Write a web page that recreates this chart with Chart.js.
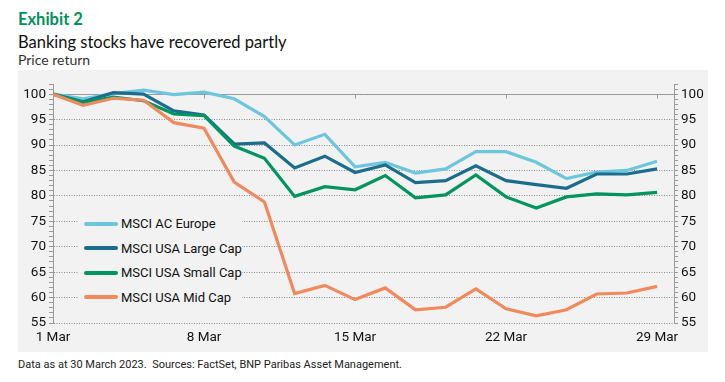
<!DOCTYPE html>
<html>
<head>
<meta charset="utf-8">
<script src="https://cdn.jsdelivr.net/npm/chart.js@4"></script>
<style>
  html,body{margin:0;padding:0;background:#fff;width:725px;height:382px;overflow:hidden;}
  .t{position:absolute;left:18px;white-space:nowrap;font-family:Lato,"Open Sans",sans-serif;}
  #ex{top:9px;font-size:16.5px;font-weight:bold;color:#00915a;}
  #ti{top:32px;font-size:16.5px;color:#111;}
  #su{top:51px;font-size:14px;color:#333;}
  #panel{position:absolute;left:18px;top:70px;width:690px;height:282px;background:#f2f2f2;}
  #panel canvas{position:absolute;left:0;top:0;}
  #legend{position:absolute;left:60px;top:142px;width:164px;height:94px;background:#f2f2f2;font-family:Roboto,sans-serif;font-size:13px;color:#111;}
  .row{position:absolute;left:6px;height:16px;line-height:16px;white-space:nowrap;}
  .sw{display:inline-block;width:34px;height:4px;border-radius:2px;vertical-align:middle;margin-right:3px;position:relative;top:-1px;}
  #foot{position:absolute;left:18px;top:358px;font-family:Roboto,sans-serif;font-size:11px;color:#222;white-space:nowrap;}
</style>
</head>
<body>
<div class="t" id="ex">Exhibit 2</div>
<div class="t" id="ti">Banking stocks have recovered partly</div>
<div class="t" id="su">Price return</div>
<div id="panel"><canvas id="c" width="690" height="282"></canvas><div id="legend"></div></div>
<div id="foot">Data as at 30 March 2023.&nbsp; Sources: FactSet, BNP Paribas Asset Management.</div>
<script>
const dates = ['1 Mar','2 Mar','3 Mar','6 Mar','7 Mar','8 Mar','9 Mar','10 Mar','13 Mar','14 Mar','15 Mar','16 Mar','17 Mar','20 Mar','21 Mar','22 Mar','23 Mar','24 Mar','27 Mar','28 Mar','29 Mar'];
const tickDates = ['1 Mar','8 Mar','15 Mar','22 Mar','29 Mar'];
const yTickLabels = [55,60,65,70,75,80,85,90,95,100];
const seriesNames = ['MSCI AC Europe','MSCI USA Large Cap','MSCI USA Small Cap','MSCI USA Mid Cap'];
const acEurope   = [100,99.1,100.1,100.8,99.9,100.4,99.1,95.6,90.0,92.1,85.7,86.6,84.5,85.3,88.7,88.7,86.6,83.4,84.7,85.0,86.8];
const usaLarge   = [100,98.5,100.3,100.0,96.7,95.9,90.2,90.4,85.5,87.8,84.6,86.1,82.6,83.0,85.9,83.0,82.2,81.5,84.3,84.3,85.3];
const usaSmall   = [100,98.4,99.4,98.7,96.1,95.8,89.8,87.4,79.9,81.8,81.2,84.0,79.6,80.2,84.1,79.8,77.6,79.8,80.4,80.2,80.7];
const usaMid     = [100,97.8,99.2,98.8,94.4,93.3,82.7,78.8,60.8,62.4,59.6,61.9,57.6,58.1,61.7,57.8,56.4,57.6,60.7,60.9,62.2];
const colors = ['#6cc6de','#1b6d8e','#00955f','#f2895c'];

const allSeries = [acEurope, usaLarge, usaSmall, usaMid];
const datasets = allSeries.map((s,k)=>({
  label: seriesNames[k],
  data: s.map((v,i)=>({x:dates.indexOf(dates[i]),y:v})),
  borderColor: colors[k],
  backgroundColor: colors[k],
  borderWidth: 3.2,
  pointRadius: 0,
  tension: 0,
  yAxisID: 'y',
  order: 4-k
}));
datasets[0].order = 4; datasets[1].order = 3; datasets[2].order = 2; datasets[3].order = 1;

const legendEl = document.getElementById('legend');
seriesNames.forEach((n,k)=>{
  const r = document.createElement('div');
  r.className='row';
  r.style.top = (4 + k*24.6) + 'px';
  r.innerHTML = '<span class="sw" style="background:'+colors[k]+'"></span>'+n;
  legendEl.appendChild(r);
});

const tickFont = {family:'Roboto, sans-serif', size:13.5};
function yAxis(pos){
  return {
    position: pos,
    min: 55, max: 102,
    afterBuildTicks: (s)=>{ const t=[]; for(let v=55; v<=102; v++) t.push({value:v}); s.ticks=t; },
    afterFit: (s)=>{ s.width = pos==='left' ? 35 : 34; },
    ticks: {
      autoSkip:false,
      color:'#111',
      font: tickFont,
      padding: 3,
      callback: (v)=> (yTickLabels.includes(v)) ? String(v) : ''
    },
    grid: {
      drawOnChartArea: pos==='left',
      color: (ctx)=> (ctx.tick && ctx.tick.value%5===0 && ctx.tick.value<100) ? '#8c8c8c' : 'rgba(0,0,0,0)',
      tickColor: '#9a9a9a',
      tickLength: 4,
      lineWidth: 1
    },
    border: {display:true, color:'#9a9a9a', width:1, dash:[1,1.5]}
  };
}

const topLinePlugin = {
  id:'topLine',
  beforeDatasetsDraw(chart){
    const {ctx, chartArea, scales} = chart;
    const y = scales.y.getPixelForValue(100);
    ctx.save();
    ctx.strokeStyle = '#9a9a9a';
    ctx.lineWidth = 1;
    ctx.beginPath();
    ctx.moveTo(chartArea.left, Math.round(y)+0.5);
    ctx.lineTo(chartArea.right, Math.round(y)+0.5);
    [0,5,10,15,20].forEach(v=>{
      const x = Math.round(scales.x.getPixelForValue(v))+0.5;
      ctx.moveTo(x, Math.round(y)+0.5);
      ctx.lineTo(x, Math.round(y)+4.5);
    });
    ctx.stroke();
    ctx.restore();
  }
};

new Chart(document.getElementById('c'), {
  type:'line',
  data:{datasets},
  plugins:[topLinePlugin],
  options:{
    responsive:false,
    animation:false,
    devicePixelRatio:1,
    layout:{padding:{top:14,left:0,right:0,bottom:0}},
    plugins:{legend:{display:false}, tooltip:{enabled:false}},
    scales:{
      x:{
        type:'linear',
        min:0, max:20.56,
        afterBuildTicks:(s)=>{ s.ticks=[0,5,10,15,20].map(v=>({value:v})); },
        afterFit:(s)=>{ s.height = 29; },
        ticks:{autoSkip:false, maxRotation:0, color:'#111', font:tickFont, padding:7,
          callback:(v)=> tickDates[[0,5,10,15,20].indexOf(v)] ?? ''},
        grid:{display:false, drawTicks:false},
        border:{display:false}
      },
      y: yAxis('left'),
      y2: yAxis('right')
    }
  }
});
</script>
</body>
</html>
